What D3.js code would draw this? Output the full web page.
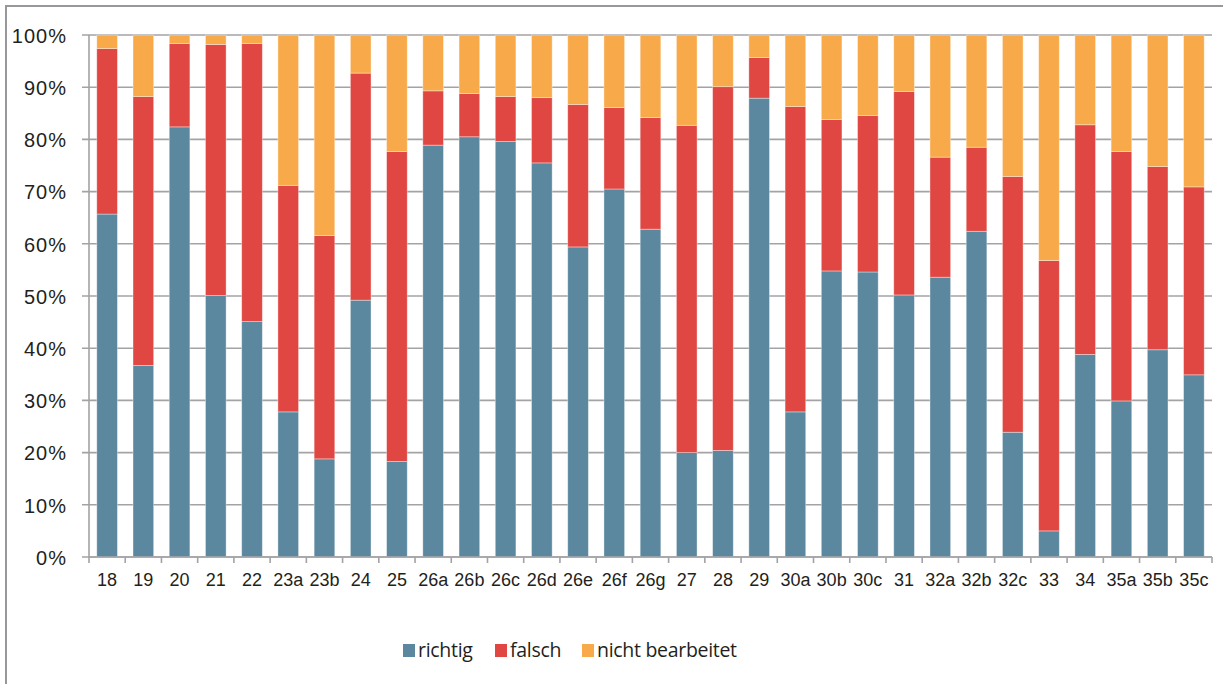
<!DOCTYPE html>
<html>
<head>
<meta charset="utf-8">
<script src="https://cdn.jsdelivr.net/npm/d3@7"></script>
<style>
  html, body { margin: 0; padding: 0; background: #fff; }
  svg { display: block; font-family: "Open Sans", "Noto Sans", sans-serif; }
</style>
</head>
<body>
<svg id="chart" width="1223" height="684"></svg>
<script>
const categories = ["18","19","20","21","22","23a","23b","24","25","26a","26b","26c","26d","26e","26f","26g","27","28","29","30a","30b","30c","31","32a","32b","32c","33","34","35a","35b","35c"];
const richtig = [65.7,36.7,82.4,50.1,45.1,27.8,18.8,49.2,18.3,78.9,80.5,79.6,75.5,59.4,70.5,62.8,20.0,20.4,87.9,27.8,54.8,54.6,50.2,53.6,62.4,23.9,5.0,38.8,29.9,39.7,34.9];
const falsch = [31.7,51.5,16.0,48.1,53.3,43.4,42.8,43.5,59.4,10.4,8.3,8.6,12.5,27.3,15.6,21.4,62.7,69.7,7.8,58.5,29.0,30.0,39.0,23.0,16.1,49.0,51.8,44.0,47.8,35.1,36.0];
const nichtBearbeitet = [2.6,11.8,1.6,1.8,1.6,28.8,38.4,7.3,22.3,10.7,11.2,11.8,12.0,13.3,13.9,15.8,17.3,9.9,4.3,13.7,16.2,15.4,10.8,23.4,21.5,27.1,43.2,17.2,22.3,25.2,29.1];
const seriesNames = ["richtig","falsch","nicht bearbeitet"];
const seriesColors = ["#5b889f","#e04742","#f8aa4a"];
const yTicks = [0,10,20,30,40,50,60,70,80,90,100];

(function () {
const svg = d3.select("#chart");
const W = 1223, H = 684;
const pLeft = 89, pRight = 1212, pTop = 35, pBottom = 557;

// outer frame
svg.append("rect").attr("x", 6).attr("y", 6).attr("width", W + 10).attr("height", H + 10)
  .attr("fill", "none").attr("stroke", "#98989c").attr("stroke-width", 2);

const x = d3.scaleBand().domain(categories).range([pLeft, pRight]).paddingInner(0.43).paddingOuter(0.215);
const xTickScale = d3.scaleBand().domain(categories).range([pLeft, pRight]).padding(0);
const y = d3.scaleLinear().domain([0, 100]).range([pBottom, pTop]);

// gridlines
svg.append("g").selectAll("line").data(yTicks).join("line")
  .attr("x1", pLeft - 7).attr("x2", pRight)
  .attr("y1", d => y(d)).attr("y2", d => y(d))
  .attr("stroke", "#a3a3a6").attr("stroke-width", 1.6);

// y axis labels
const yAxis = d3.axisLeft(y).tickValues(yTicks).tickFormat(d => d + "%").tickSize(0).tickPadding(22);
const gy = svg.append("g").attr("transform", `translate(${pLeft},0)`).call(yAxis);
gy.select(".domain").remove();
gy.selectAll("text").attr("font-size", 20).attr("letter-spacing", "1px")
  .attr("fill", "#231f20").attr("dy", "0.36em");

// stacked data
const rows = categories.map((c, i) => ({cat: c, "richtig": richtig[i], "falsch": falsch[i], "nicht bearbeitet": nichtBearbeitet[i]}));
const stack = d3.stack().keys(seriesNames)(rows);

svg.append("g").selectAll("g").data(stack).join("g")
  .attr("fill", (d, i) => seriesColors[i])
  .selectAll("rect").data(d => d).join("rect")
  .attr("x", d => x(d.data.cat))
  .attr("width", x.bandwidth())
  .attr("y", d => y(d[1]))
  .attr("height", d => y(d[0]) - y(d[1]))
  .attr("stroke", "rgba(255,255,255,0.45)")
  .attr("stroke-width", 0.8);

// y axis line
svg.append("line").attr("x1", pLeft).attr("x2", pLeft).attr("y1", pTop).attr("y2", pBottom)
  .attr("stroke", "#a3a3a6").attr("stroke-width", 1.6);

// x axis
svg.append("line").attr("x1", pLeft).attr("x2", pRight).attr("y1", pBottom).attr("y2", pBottom)
  .attr("stroke", "#a3a3a6").attr("stroke-width", 1.6);
const boundaries = categories.map(c => xTickScale(c)).concat([pRight]);
svg.append("g").selectAll("line").data(boundaries).join("line")
  .attr("x1", d => d).attr("x2", d => d).attr("y1", pBottom).attr("y2", pBottom + 6)
  .attr("stroke", "#a3a3a6").attr("stroke-width", 1.6);

const xAxis = d3.axisBottom(x).tickSize(0).tickPadding(0);
const gx = svg.append("g").attr("transform", `translate(0,${pBottom})`).call(xAxis);
gx.select(".domain").remove();
gx.selectAll("text").attr("font-size", 18).attr("fill", "#231f20").attr("y", 16).attr("dy", "0.71em");

// legend
const legendItems = [
  {name: seriesNames[0], color: seriesColors[0], x: 403},
  {name: seriesNames[1], color: seriesColors[1], x: 495},
  {name: seriesNames[2], color: seriesColors[2], x: 582}
];
const lg = svg.append("g");
legendItems.forEach(it => {
  lg.append("rect").attr("x", it.x).attr("y", 644).attr("width", 12).attr("height", 13).attr("fill", it.color);
  lg.append("text").attr("x", it.x + 15).attr("y", 657).attr("font-size", 19.5).attr("letter-spacing", "-0.3px")
    .attr("fill", "#231f20").text(it.name);
});
})();
</script>
</body>
</html>
